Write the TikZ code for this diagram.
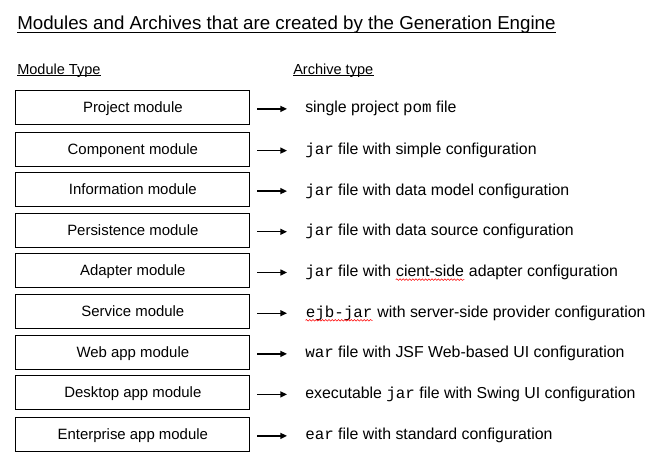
\documentclass[tikz,border=0pt]{standalone}
\usepackage{fontspec}
\setmainfont{Liberation Sans}
\setmonofont{Liberation Mono}
\usetikzlibrary{arrows.meta,decorations.pathmorphing}
\newcommand\wavy[1]{\tikz[baseline=(wv.base)]{\node[inner sep=0pt, anchor=base] (wv) {#1};
  \draw[red, line width=0.4pt, decorate, decoration={snake, amplitude=0.6pt, segment length=2.4pt}]
  ([yshift=-2.4pt]wv.base west) -- ([yshift=-2.4pt]wv.base east);}}
\begin{document}
\begin{tikzpicture}[x=0.75pt,y=-0.75pt,
  modbox/.style={draw=black, line width=0.75pt, minimum width=175.7pt, minimum height=25.5pt,
    inner sep=0pt, font=\fontsize{11.2}{13}\selectfont, text height=10.3pt, text depth=2.8pt},
  arch/.style={anchor=base west, inner sep=0pt, font=\fontsize{11.9}{14}\selectfont},
  head/.style={anchor=base west, inner sep=0pt, font=\fontsize{10.9}{13}\selectfont},
  uline/.style={line width=0.75pt},
  conn/.style={line width=1pt, -{Triangle[length=5pt,width=4.5pt]}, shorten >=13.5pt}]
\useasboundingbox[fill=white] (0,0) rectangle (664,464);
\node[anchor=base west, inner sep=0pt, font=\fontsize{14.05}{16}\selectfont] (title) at (17,29.7)
  {Modules and Archives that are created by the Generation Engine};
\draw[uline] ([yshift=-2pt]title.base west) -- ([yshift=-2pt]title.base east);
\node[head] (hm) at (17,74) {Module Type};
\node[head] (ha) at (293,74) {Archive type};
\draw[uline] ([yshift=-1.2pt]hm.base west) -- ([yshift=-1.2pt]hm.base east);
\draw[uline] ([yshift=-1.2pt]ha.base west) -- ([yshift=-1.2pt]ha.base east);
\foreach \i/\y/\m/\a in {
  1/107.3/{Project module}/{single project \texttt{pom} file},
  2/149.0/{Component module}/{\texttt{jar} file with simple configuration},
  3/189.5/{Information module}/{\texttt{jar} file with data model configuration},
  4/230.2/{Persistence module}/{\texttt{jar} file with data source configuration},
  5/270.9/{Adapter module}/{\texttt{jar} file with \wavy{cient-side} adapter configuration},
  6/311.6/{Service module}/{\texttt{\wavy{ejb-jar}} with server-side provider configuration},
  7/352.3/{Web app module}/{\texttt{war} file with JSF Web-based UI configuration},
  8/392.8/{Desktop app module}/{executable \texttt{jar} file with Swing UI configuration},
  9/434.3/{Enterprise app module}/{\texttt{ear} file with standard configuration}} {
  \node[modbox] (m\i) at (132.85,\y) {\m};
  \node[arch] (a\i) at (305,\y+5.5) {\a};
  \draw[conn] ([xshift=5pt,yshift=-1.2pt]m\i.east) -- ([yshift=-1.2pt]m\i.east -| a\i.west);
}
\end{tikzpicture}
\end{document}
